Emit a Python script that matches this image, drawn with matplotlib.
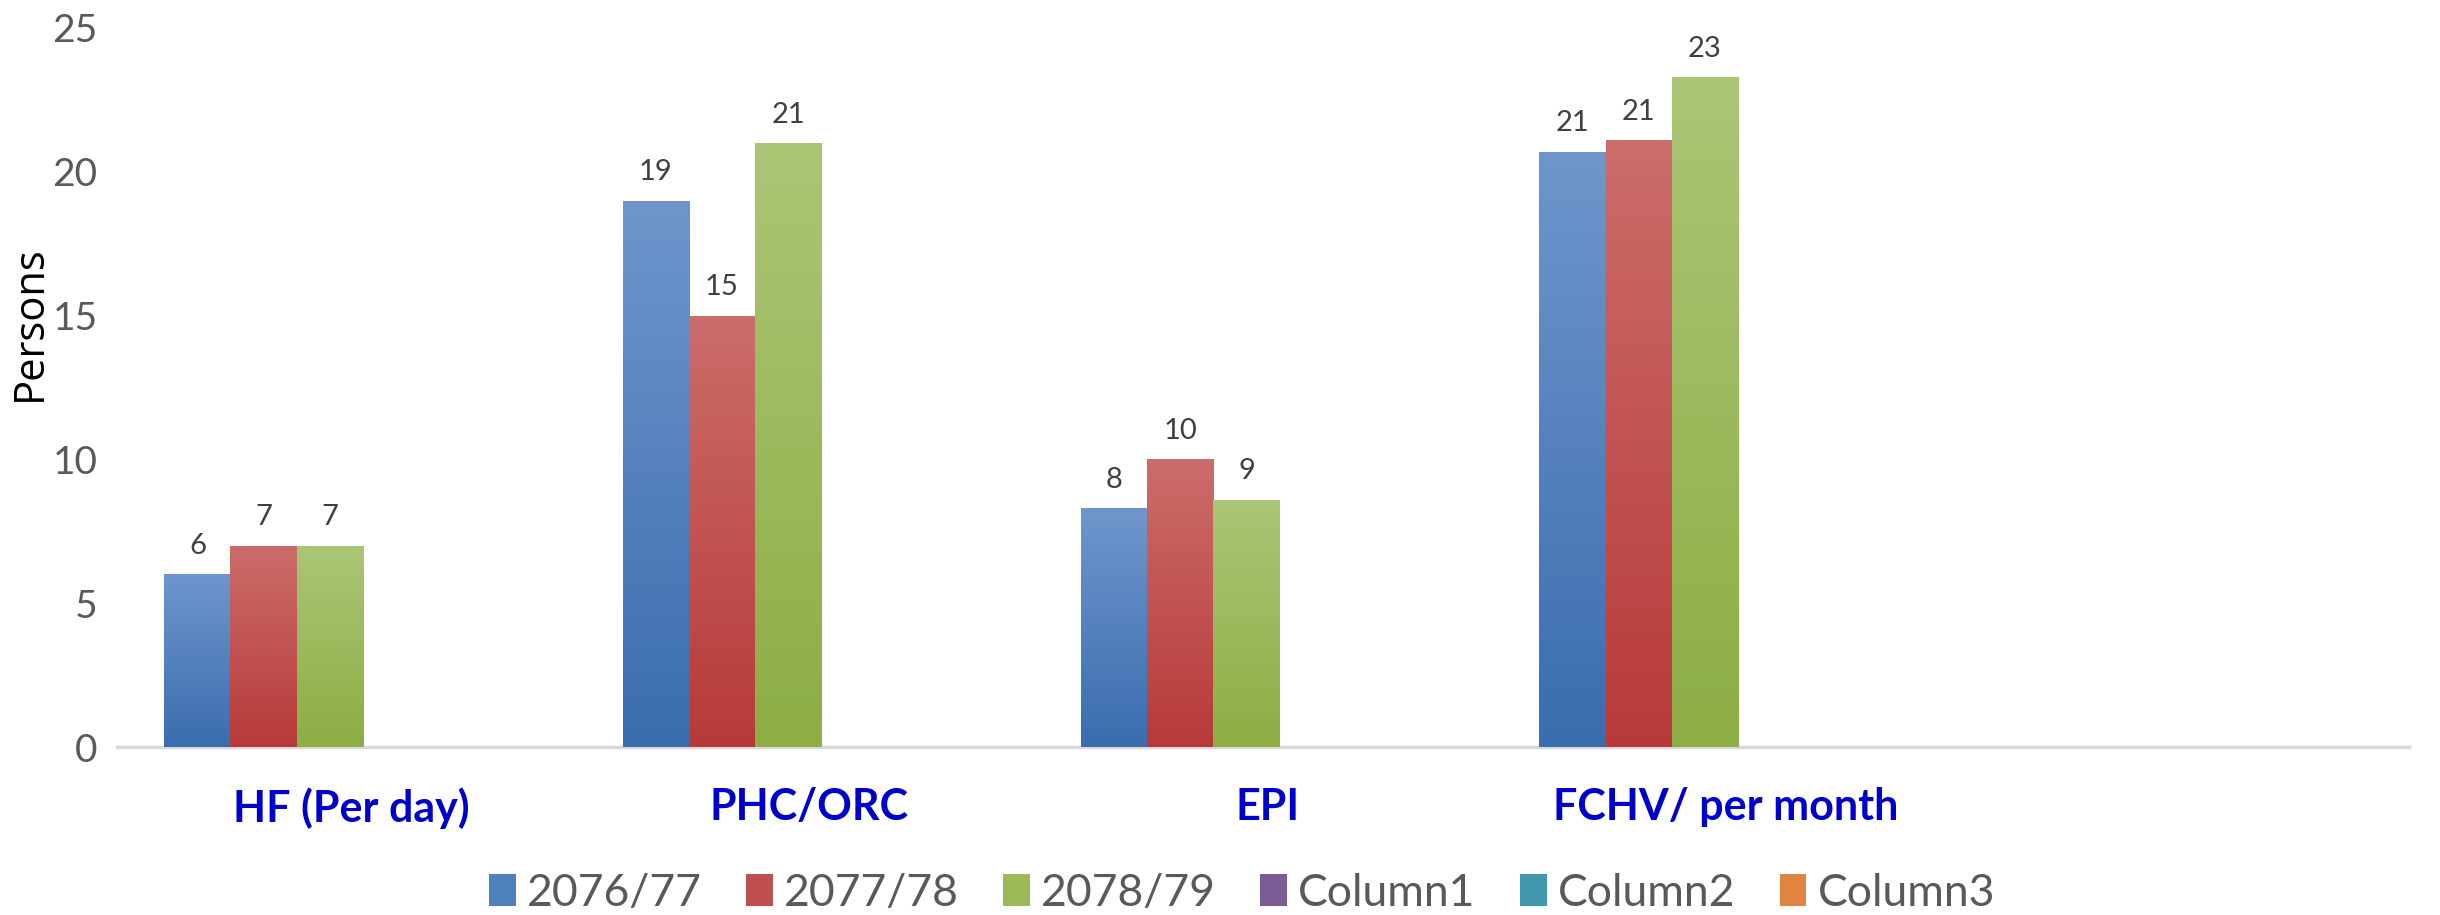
import numpy as np
import matplotlib
matplotlib.use("Agg")
import matplotlib.pyplot as plt
from matplotlib.colors import LinearSegmentedColormap
from matplotlib.patches import Patch

# ---------------- data ----------------
categories = ["HF (Per day)", "PHC/ORC", "EPI", "FCHV/ per month"]
series_names = ["2076/77", "2077/78", "2078/79", "Column1", "Column2", "Column3"]
s2076 = [6, 19, 8.3, 20.7]
s2077 = [7, 15, 10, 21.1]
s2078 = [7, 21, 8.6, 23.3]
col1 = [None, None, None, None]
col2 = [None, None, None, None]
col3 = [None, None, None, None]
series_values = [s2076, s2077, s2078, col1, col2, col3]
yticks = [0, 5, 10, 15, 20, 25]

# ---------------- style ----------------
top_colors = ["#6F96CC", "#CB6D6B", "#ABC676", "#8A70AC", "#58B4CC", "#F0A060"]
bot_colors = ["#3A6DAF", "#B73A39", "#8CAE44", "#6E5491", "#3C92A8", "#D67B35"]
mid_colors = ["#4F81BD", "#C0504D", "#9BBB59", "#7A5C97", "#4298AE", "#E08540"]

plt.rcParams['font.family'] = ['Lato', 'DejaVu Sans']

fig = plt.figure(figsize=(24.4, 9.15), dpi=100)
ax = fig.add_axes([0.048, 0.1836, 0.9393, 0.7858])

n_slots = 5
bar_w = 0.1443
start = -0.397
x = np.arange(len(categories))

grad = np.linspace(0, 1, 256).reshape(-1, 1)
for k, vals in enumerate(series_values):
    if all(v is None for v in vals):
        continue
    pos = x + start + bar_w * (k + 0.5)
    bars = ax.bar(pos, vals, width=bar_w, color=mid_colors[k], zorder=2, linewidth=0)
    cmap = LinearSegmentedColormap.from_list("g%d" % k, [top_colors[k], bot_colors[k]])
    for b, v in zip(bars, vals):
        bx, by, bw, bh = b.get_x(), b.get_y(), b.get_width(), b.get_height()
        im = ax.imshow(grad, cmap=cmap, extent=[bx, bx + bw, by, by + bh],
                       aspect='auto', origin='upper', zorder=2.1)
        im.set_clip_path(b)
        ax.annotate("%.0f" % v, (bx + bw / 2, by + bh), xytext=(0, 11),
                    textcoords='offset points', ha='center', va='bottom',
                    fontsize=21, color='#404040')

ax.set_xlim(-0.5, n_slots - 0.5)
ax.set_ylim(0, 25)
ax.set_aspect('auto')

for s in ['top', 'right', 'left']:
    ax.spines[s].set_visible(False)
ax.spines['bottom'].set_color('#D9D9D9')
ax.spines['bottom'].set_linewidth(2.5)
ax.spines['bottom'].set_zorder(1)

ax.set_yticks(yticks)
ax.set_yticklabels([str(t) for t in yticks])
ax.tick_params(axis='y', length=0, pad=14, labelsize=28, labelcolor='#595959')
ax.set_xticks(x + 0.01)
ax.set_xticklabels(categories, fontsize=31, fontweight='bold', color='#0000CC')
ax.tick_params(axis='x', length=0, pad=29)

ax.set_ylabel("Persons", fontsize=30, family=['Open Sans', 'DejaVu Sans'], color='black')
ax.yaxis.set_label_coords(-0.029, 0.59)

handles = [Patch(facecolor=c, edgecolor='none') for c in mid_colors]
fig.legend(handles, series_names, loc='center', bbox_to_anchor=(0.509, 0.024), ncol=6,
           frameon=False, fontsize=32, handlelength=0.6, handleheight=0.75,
           handletextpad=0.25, columnspacing=1.0, labelcolor='#595959')

fig.savefig("out.png", dpi=100)
